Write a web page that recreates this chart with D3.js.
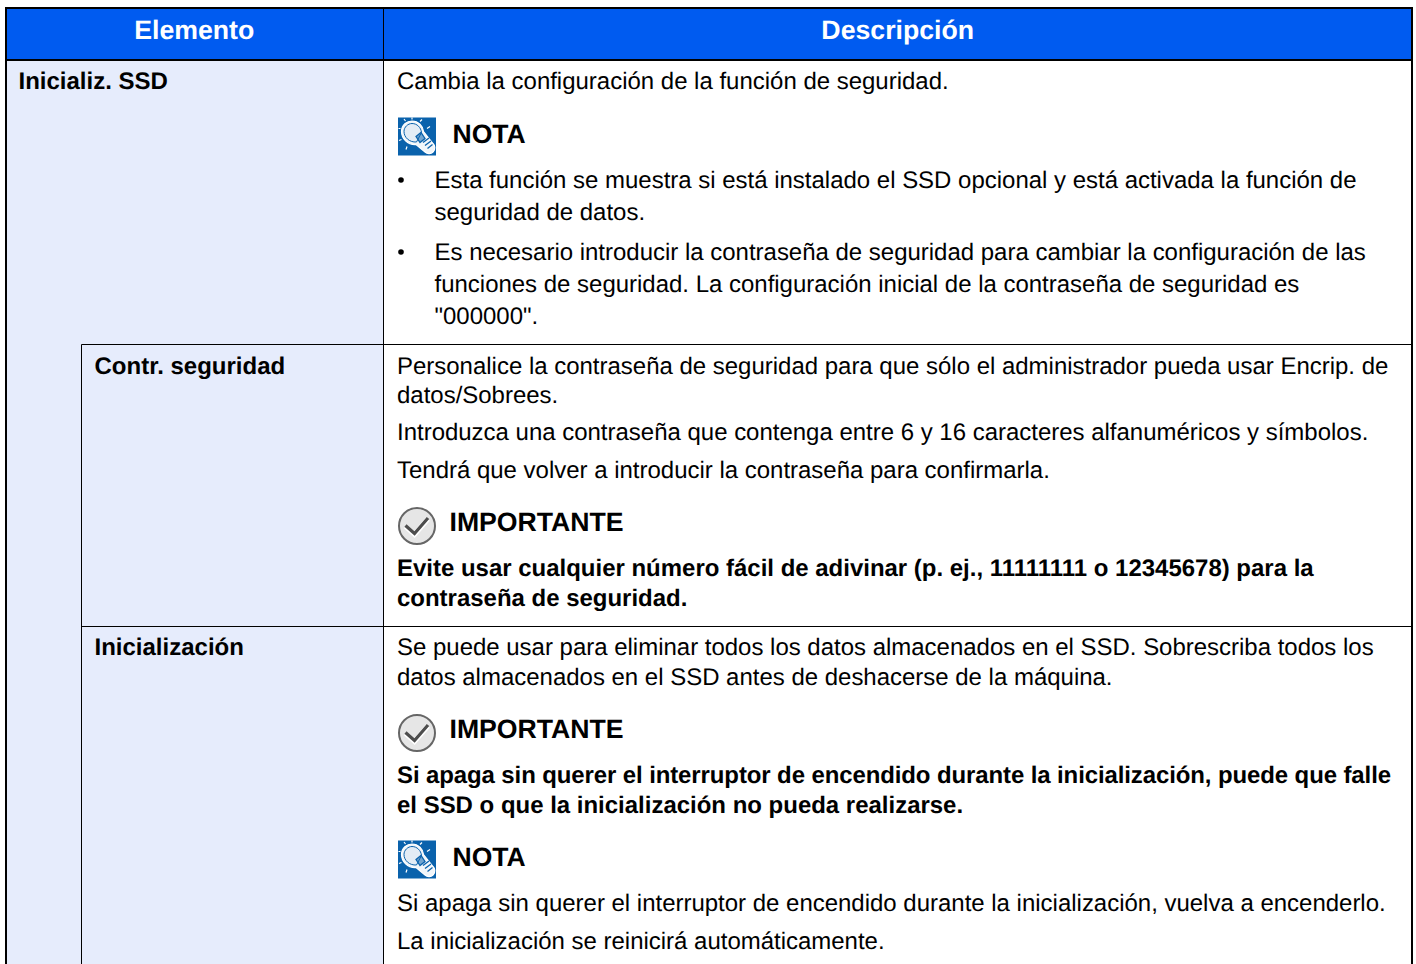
<!DOCTYPE html>
<html lang="es">
<head>
<meta charset="utf-8">
<title>Inicializ. SSD</title>
<script src="https://cdn.jsdelivr.net/npm/d3@7"></script>
<style>
html, body { margin: 0; padding: 0; background: #fff; overflow: hidden; }
text { font-family: "Liberation Sans", Arial, sans-serif; text-rendering: geometricPrecision; }
</style>
</head>
<body>
<div id="table"></div>
<script>
const headers = ["Elemento", "Descripción"];

const items = ["Inicializ. SSD", "Contr. seguridad", "Inicialización"];

// kind: t = plain, b = bold, l = bullet text, c = bullet continuation, n = nota, i = importante
const lineTexts = [
    "Cambia la configuración de la función de seguridad.",
    "NOTA",
    "Esta función se muestra si está instalado el SSD opcional y está activada la función de",
    "seguridad de datos.",
    "Es necesario introducir la contraseña de seguridad para cambiar la configuración de las",
    "funciones de seguridad. La configuración inicial de la contraseña de seguridad es",
    "\"000000\".",
    "Personalice la contraseña de seguridad para que sólo el administrador pueda usar Encrip. de",
    "datos/Sobrees.",
    "Introduzca una contraseña que contenga entre 6 y 16 caracteres alfanuméricos y símbolos.",
    "Tendrá que volver a introducir la contraseña para confirmarla.",
    "IMPORTANTE",
    "Evite usar cualquier número fácil de adivinar (p. ej., 11111111 o 12345678) para la",
    "contraseña de seguridad.",
    "Se puede usar para eliminar todos los datos almacenados en el SSD. Sobrescriba todos los",
    "datos almacenados en el SSD antes de deshacerse de la máquina.",
    "IMPORTANTE",
    "Si apaga sin querer el interruptor de encendido durante la inicialización, puede que falle",
    "el SSD o que la inicialización no pueda realizarse.",
    "NOTA",
    "Si apaga sin querer el interruptor de encendido durante la inicialización, vuelva a encenderlo.",
    "La inicialización se reinicirá automáticamente."
];
const lineKinds = ["t", "n", "l", "c", "l", "c", "c", "t", "t", "t", "t", "i", "b", "b", "t", "t", "i", "b", "b", "n", "t", "t"];

const W = 1416, H = 964;
const colLeft = 6, colSub = 81.5, colMid = 383.5, colRight = 1412;
const headTop = 8, headBottom = 60, row2Top = 344.5, row3Top = 626.5;

// layout only: baselines of the lines above and of the item labels
const lineY = [89, 143, 188, 220, 260, 292, 324, 374, 403, 440, 478, 531, 576, 606, 655, 685, 738, 783, 813, 866, 911, 949];
const itemY = [89, 374, 655];
const itemX = [18.5, 94.5, 94.5];

const svg = d3.select("#table").append("svg")
    .attr("width", W).attr("height", H)
    .style("display", "block");

// cell fills
svg.append("rect").attr("x", colLeft).attr("y", headTop).attr("width", colRight - colLeft).attr("height", headBottom - headTop).attr("fill", "#005bf0");
svg.append("rect").attr("x", colLeft).attr("y", headBottom).attr("width", colMid - colLeft).attr("height", H - headBottom).attr("fill", "#e6ecfc");

// rules
const rules = [
    [colLeft, headTop, colRight, headTop, 2],
    [colLeft, headBottom, colRight, headBottom, 2],
    [colLeft, headTop - 1, colLeft, H, 2],
    [colRight, headTop - 1, colRight, H, 2],
    [colMid, headTop, colMid, H, 1],
    [colSub, row2Top, colSub, H, 1],
    [colSub, row2Top, colRight, row2Top, 1],
    [colSub, row3Top, colRight, row3Top, 1]
];
svg.selectAll("line.rule").data(rules).enter().append("line")
    .attr("class", "rule")
    .attr("x1", d => d[0]).attr("y1", d => d[1])
    .attr("x2", d => d[2]).attr("y2", d => d[3])
    .attr("stroke", "#000")
    .attr("stroke-width", d => d[4]);

// header
svg.selectAll("text.head").data(headers).enter().append("text")
    .attr("class", "head")
    .attr("x", (d, i) => i === 0 ? (colLeft + colMid) / 2 - 0.5 : (colMid + colRight) / 2)
    .attr("y", 39)
    .attr("text-anchor", "middle")
    .attr("font-size", 26.7)
    .attr("font-weight", "bold")
    .attr("fill", "#fff")
    .text(d => d);

// left column
svg.selectAll("text.item").data(items).enter().append("text")
    .attr("class", "item")
    .attr("x", (d, i) => itemX[i])
    .attr("y", (d, i) => itemY[i])
    .attr("font-size", 24)
    .attr("font-weight", "bold")
    .text(d => d);

// right column
const xOf = { t: 397, b: 397, l: 434.5, c: 434.5, n: 452.5, i: 449.5 };
const sizeOf = { t: 23.97, b: 23.97, l: 23.97, c: 23.97, n: 26.5, i: 26.65 };
const lines = lineTexts.map((s, i) => ({ s, kind: lineKinds[i], y: lineY[i], tight: i === 17 }));

svg.selectAll("text.line").data(lines).enter().append("text")
    .attr("class", "line")
    .attr("x", d => xOf[d.kind])
    .attr("y", d => d.y)
    .attr("font-size", d => sizeOf[d.kind])
    .attr("font-weight", d => "bni".includes(d.kind) ? "bold" : "normal")
    .attr("letter-spacing", d => d.tight ? -0.1 : null)
    .text(d => d.s);

// bullets
svg.selectAll("circle.bullet").data(lines.filter(d => d.kind === "l")).enter().append("circle")
    .attr("class", "bullet")
    .attr("cx", 401)
    .attr("cy", d => d.y - 8)
    .attr("r", 2.8)
    .attr("fill", "#000");

// note icon: blue square with a light bulb
const noteIcons = svg.selectAll("g.note").data(lines.filter(d => d.kind === "n")).enter().append("g")
    .attr("class", "note")
    .attr("transform", d => `translate(398,${d.y - 25.5})`);
noteIcons.append("rect").attr("width", 38).attr("height", 38).attr("fill", "#0a62ac");
noteIcons.append("path")
    .attr("d", "M3.5 14 C3.5 7.5 9 3.5 14 3.5 C20.5 3.5 25 8.5 25.5 14 L35 26 A5 5 0 0 1 27 34.5 L18 27 C9.5 27.5 3.5 21 3.5 14 Z")
    .attr("fill", "#f1f6fa").attr("stroke", "#fff").attr("stroke-width", 1.2);
noteIcons.append("path")
    .attr("d", "M6 14 C6 9.5 10 6 14 6 C19 6 23 10 23.5 15 L18.5 24.5 C11.5 25 6 20 6 14 Z")
    .attr("fill", "#e3ecf5").attr("stroke", "#0a62ac").attr("stroke-width", 1);
noteIcons.append("path")
    .attr("d", "M18 19 L23 15 L27 21 L22 25 Z M25 25 L31 20.5 M27 28 L33 23.5 M29.5 31 L34.5 27")
    .attr("fill", "#0a62ac").attr("fill-opacity", 0.55).attr("stroke", "#0a62ac").attr("stroke-width", 1.3);
noteIcons.append("path")
    .attr("d", "M14 0 V2 M6 1.5 L7.5 3.5 M24 2 L22 4 M0.5 11 H2.5 M1 23 L3.5 22 M8 32 L9 29 M32 9 L29 11")
    .attr("stroke", "#fff").attr("stroke-width", 1.2).attr("fill", "none");

// important icon: grey circle with a check mark
const checkIcons = svg.selectAll("g.check").data(lines.filter(d => d.kind === "i")).enter().append("g")
    .attr("class", "check")
    .attr("transform", d => `translate(417,${d.y - 5})`);
checkIcons.append("circle").attr("r", 18).attr("fill", "#e6e6e6").attr("stroke", "#666").attr("stroke-width", 2);
checkIcons.append("path")
    .attr("d", "M-11.5 0.5 L-2.5 8.5 L11 -7")
    .attr("fill", "none").attr("stroke", "#fff").attr("stroke-width", 5);
checkIcons.append("path")
    .attr("d", "M-11.5 -0.5 L-2.5 7.5 L11 -8")
    .attr("fill", "none").attr("stroke", "#4d4d4d").attr("stroke-width", 3.2);
</script>
</body>
</html>
